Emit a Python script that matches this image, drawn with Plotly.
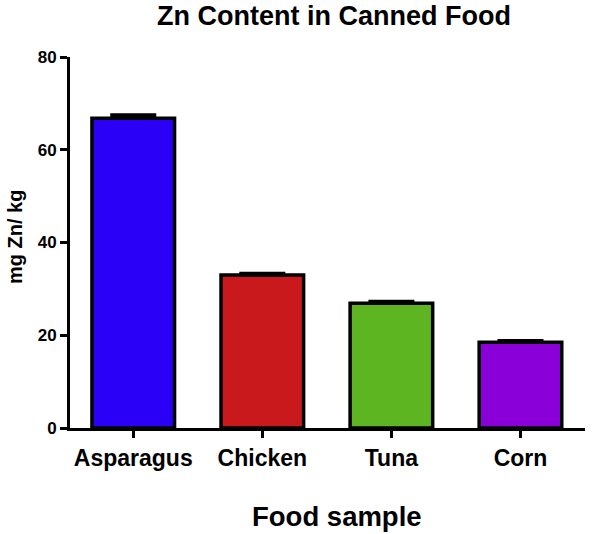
import plotly.graph_objects as go

categories = ["Asparagus", "Chicken", "Tuna", "Corn"]
values = [66.8, 33.0, 26.9, 18.5]
errors = [0.7, 0.3, 0.4, 0.3]
colors = ["#2b00f6", "#c9191c", "#5db522", "#8a00d8"]
y_ticks = [0, 20, 40, 60, 80]

font = "Liberation Sans, Arial, sans-serif"

W, H = 605, 534
L, R, T, B = 70, 20, 57, 106
PW, PH = W - L - R, H - T - B

fig = go.Figure()
fig.add_trace(go.Bar(
    x=list(range(len(categories))), y=values,
    width=0.64,
    marker=dict(color=colors, line=dict(color="black", width=3.5)),
    error_y=dict(type="data", array=errors, symmetric=False, arrayminus=[0] * 4,
                 color="black", thickness=3.5, width=23),
))
fig.update_layout(
    width=W, height=H,
    margin=dict(l=L, r=R, t=T, b=B),
    plot_bgcolor="white", paper_bgcolor="white",
    showlegend=False,
    title=dict(text="<b>Zn Content in Canned Food</b>", x=334 / W, xanchor="center",
               xref="container", yref="container",
               y=1 - 16 / H, yanchor="middle", font=dict(family=font, size=27, color="black")),
    xaxis=dict(
        tickmode="array", tickvals=list(range(len(categories))),
        ticktext=[f"<b>{c}</b>" for c in categories],
        range=[-0.49, 3.5], showline=True, linecolor="black", linewidth=3,
        ticks="outside", ticklen=7, tickwidth=3, tickcolor="black",
        tickfont=dict(family=font, size=23, color="black"),
        showgrid=False, zeroline=False, automargin=False,
    ),
    yaxis=dict(
        range=[0, 80], tickvals=y_ticks, ticktext=[f"<b>{t}</b>" for t in y_ticks],
        showline=True, linecolor="black", linewidth=3,
        ticks="outside", ticklen=7, tickwidth=3, tickcolor="black",
        tickfont=dict(family=font, size=17, color="black"),
        showgrid=False, zeroline=False, automargin=False,
    ),
    annotations=[
        dict(text="<b>Food sample</b>", xref="paper", yref="paper", x=(337 - L) / PW,
             y=-(516 - (T + PH)) / PH, xanchor="center", yanchor="middle", showarrow=False,
             font=dict(family=font, size=27.5, color="black")),
        dict(text="<b>mg Zn/ kg</b>", xref="paper", yref="paper", x=-(L - 15) / PW,
             y=((T + PH) - 237) / PH, xanchor="center", yanchor="middle", showarrow=False,
             textangle=-90, font=dict(family=font, size=20, color="black")),
    ],
)
fig.write_html("out.html", config={"displayModeBar": False},
               post_script="document.body.style.margin='0';document.body.style.padding='0';")
